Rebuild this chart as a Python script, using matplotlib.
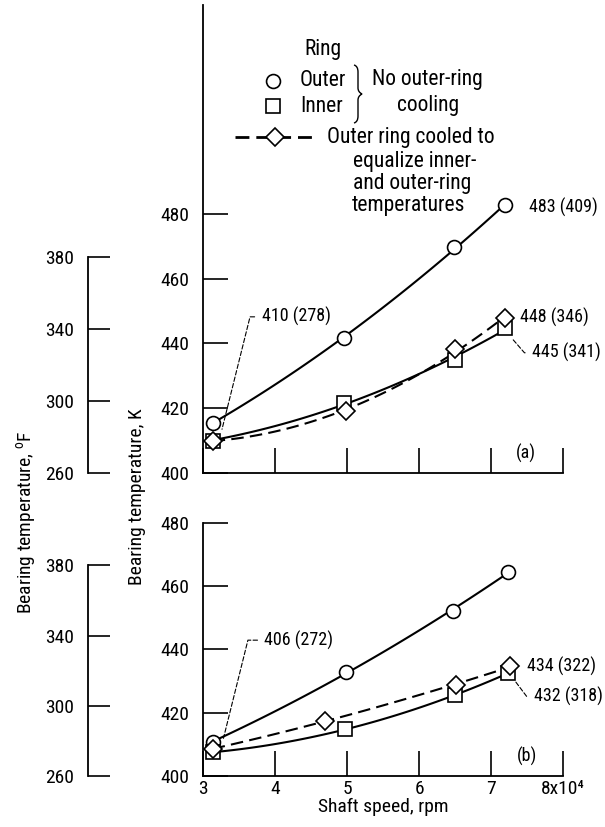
import numpy as np
import matplotlib
matplotlib.use("Agg")
import matplotlib.pyplot as plt
from matplotlib.path import Path
from matplotlib.patches import PathPatch
from matplotlib import font_manager as fm

# pick a condensed sans if one is there
have = set(f.name for f in fm.fontManager.ttflist)
narrow = 'DejaVu Sans'
for cand in ['Roboto Condensed', 'Archivo Narrow', 'PT Sans Narrow', 'Liberation Sans Narrow',
             'Fira Sans Condensed', 'IBM Plex Sans Condensed', 'Open Sans Condensed']:
    if cand in have:
        narrow = cand
        break

plt.rcParams['font.family'] = [narrow, 'DejaVu Sans']
plt.rcParams['mathtext.fontset'] = 'custom'
plt.rcParams['mathtext.rm'] = narrow
plt.rcParams['font.size'] = 14

# shaft speed (x10^4 rpm) and bearing temperature (K)
# panel (a)
a_outer_x = [3.13, 4.96, 6.48, 7.20]
a_outer_t = [415.5, 441.6, 469.7, 482.6]
a_inner_x = [3.13, 4.96, 6.50, 7.20]
a_inner_t = [410.0, 421.7, 435.0, 444.8]
a_cool_x = [3.13, 4.98, 6.50, 7.20]
a_cool_t = [410.0, 419.0, 438.3, 447.8]
# panel (b)
b_outer_x = [3.13, 4.98, 6.47, 7.24]
b_outer_t = [410.8, 432.7, 452.1, 464.5]
b_inner_x = [3.13, 4.97, 6.50, 7.24]
b_inner_t = [407.5, 414.7, 425.6, 432.5]
b_cool_x = [3.13, 4.69, 6.51, 7.27]
b_cool_t = [408.5, 417.5, 428.7, 434.7]

x_ticks = [3, 4, 5, 6, 7, 8]
x_ticklabels = ['3', '4', '5', '6', '7', '8x10\u2074']
k_ticks = [400, 420, 440, 460, 480]
f_ticks = [260, 300, 340, 380]

W, H = 605, 827
LEG = 15.5


def k2f(k):
    return (k - 273.15) * 9 / 5 + 32


def faired(ax, xs, ts, ls):
    # smooth faired curve through the points, like the original
    c = np.polyfit(xs, ts, 2)
    xx = np.linspace(min(xs), max(xs), 100)
    ax.plot(xx, np.polyval(c, xx), color='black', lw=1.5, ls=ls, zorder=2)


def series(ax, xs, ts, marker, ms, ls):
    faired(ax, xs, ts, ls)
    ax.plot(xs, ts, ls='none', marker=marker, ms=ms, mfc='white',
            mec='black', mew=1.2, zorder=3)


def panel(rect, ylim, first):
    ax = fig.add_axes(rect)
    ax.patch.set_visible(False)
    ax.set_xlim(3, 8)
    ax.set_ylim(*ylim)
    ax.spines['top'].set_visible(False)
    ax.spines['right'].set_visible(False)
    for s in ('left', 'bottom'):
        ax.spines[s].set_linewidth(1.3)
    ax.set_xticks(x_ticks)
    ax.set_yticks(k_ticks)
    ax.tick_params(direction='in', length=18, width=1.2, labelsize=14)
    ax.tick_params(axis='y', pad=10)
    ax.tick_params(axis='x', pad=3)
    if first:
        ax.set_xticklabels([])
    else:
        ax.set_xticklabels(x_ticklabels)

    tw = ax.twinx()
    tw.set_ylim(k2f(ylim[0]), k2f(ylim[1]))
    for s in ('top', 'right', 'bottom'):
        tw.spines[s].set_visible(False)
    tw.spines['left'].set_visible(True)
    tw.spines['left'].set_position(('axes', -0.32))
    tw.spines['left'].set_bounds(260, 380)
    tw.spines['left'].set_linewidth(1.3)
    tw.yaxis.set_ticks_position('left')
    tw.set_yticks(f_ticks)
    tw.tick_params(direction='in', length=16, width=1.2, labelsize=14, pad=10)
    return ax


def leader(ax, text, xy, xytext, angle):
    ax.annotate(text, xy=xy, xytext=xytext, ha='left', va='center', fontsize=13,
                arrowprops=dict(arrowstyle='-', ls=(0, (4, 2)), lw=0.8,
                                relpos=(0, 0.5), shrinkA=3, shrinkB=0,
                                connectionstyle='angle,angleA=0,angleB=%d,rad=0' % angle))


fig = plt.figure(figsize=(W / 100, H / 100), dpi=100)

# legend drawn in pixel space
lg = fig.add_axes([0, 0, 1, 1])
lg.set_zorder(10)
lg.patch.set_visible(False)
lg.set_xlim(0, W)
lg.set_ylim(H, 0)
lg.axis('off')
lg.text(323, 50, 'Ring', ha='center', va='center', fontsize=LEG)
lg.plot([273], [81], 'o', ms=10, mfc='white', mec='black', mew=1.2)
lg.plot([273], [106], 's', ms=9.5, mfc='white', mec='black', mew=1.2)
lg.text(300, 81, 'Outer', va='center', fontsize=LEG)
lg.text(300, 106, 'Inner', va='center', fontsize=LEG)
brace = Path([(354, 65), (358, 66), (358, 72), (358, 88), (358, 92), (362, 94),
              (358, 96), (358, 100), (358, 116), (358, 122), (354, 123)],
             [Path.MOVETO, Path.CURVE3, Path.CURVE3, Path.LINETO, Path.CURVE3, Path.CURVE3,
              Path.CURVE3, Path.CURVE3, Path.LINETO, Path.CURVE3, Path.CURVE3])
lg.add_patch(PathPatch(brace, fill=False, lw=1.0))
lg.text(372, 80, 'No outer-ring', va='center', fontsize=LEG)
lg.text(428, 105, 'cooling', ha='center', va='center', fontsize=LEG)
lg.plot([235, 313], [137, 137], color='black', lw=2, ls=(0, (5, 2.5)))
lg.plot([275], [137], 'D', ms=9, mfc='white', mec='black', mew=1.2)
lg.text(327, 137, 'Outer ring cooled to', va='center', fontsize=LEG)
lg.text(353, 161, 'equalize inner-', va='center', fontsize=LEG)
lg.text(353, 184, 'and outer-ring', va='center', fontsize=LEG)
lg.text(352, 206, 'temperatures', va='center', fontsize=LEG)

# panel (a)
ax_a = panel([203.3 / W, 1 - 473 / H, 359.7 / W, 468 / H], (400, 400 + 468 / 3.24), True)
series(ax_a, a_outer_x, a_outer_t, 'o', 10, '-')
series(ax_a, a_inner_x, a_inner_t, 's', 9.5, '-')
series(ax_a, a_cool_x, a_cool_t, 'D', 9, (0, (6, 3)))
ax_a.text(7.53, 482.0, '483 (409)', va='center', fontsize=13)
ax_a.text(7.40, 448.1, '448 (346)', va='center', fontsize=13)
leader(ax_a, '445 (341)', (7.30, 441.3), (7.57, 437.1), -49)
leader(ax_a, '410 (278)', (3.26, 413.5), (3.81, 448.2), 76)
ax_a.text(7.49, 406.1, '(a)', ha='center', va='center', fontsize=13)

# panel (b)
ax_b = panel([203.3 / W, 1 - 776 / H, 359.7 / W, 253.3 / H], (400, 480), False)
series(ax_b, b_outer_x, b_outer_t, 'o', 10, '-')
series(ax_b, b_inner_x, b_inner_t, 's', 9.5, '-')
series(ax_b, b_cool_x, b_cool_t, 'D', 9, (0, (6, 3)))
ax_b.text(7.50, 434.5, '434 (322)', va='center', fontsize=13)
leader(ax_b, '432 (318)', (7.34, 429.8), (7.59, 425.0), -53)
leader(ax_b, '406 (272)', (3.28, 411.9), (3.85, 442.9), 76)
ax_b.text(7.50, 406.1, '(b)', ha='center', va='center', fontsize=13)
ax_b.set_xlabel('Shaft speed, rpm', fontsize=14, labelpad=0)

fig.text(137 / W, 1 - 497 / H, 'Bearing temperature, K', rotation=90,
         ha='center', va='center', fontsize=14)
fig.text(27 / W, 1 - 522 / H, 'Bearing temperature, $^{\\mathrm{o}}$F', rotation=90,
         ha='center', va='center', fontsize=14)

fig.savefig('out.png', dpi=100)
